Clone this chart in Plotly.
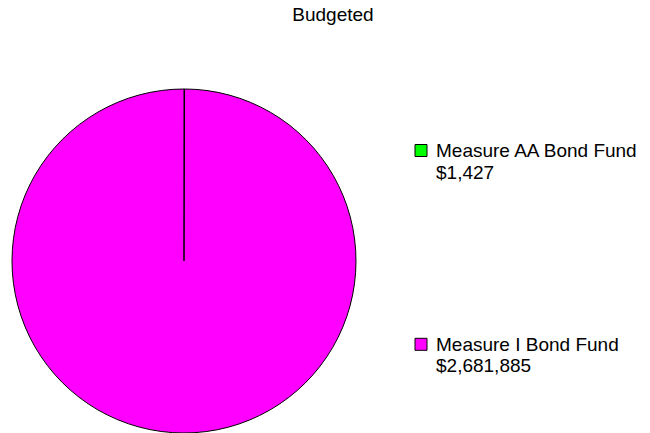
import plotly.graph_objects as go

# Data
labels = ["Measure AA Bond Fund", "Measure I Bond Fund"]
values = [1427, 2681885]
colors = ["#00FF00", "#FF00FF"]
title_text = "Budgeted"

W, H = 650, 433
FONT = "Liberation Sans, Arial, sans-serif"


def px_x(px):
    return px / W


def px_y(py):
    return 1 - py / H


fig = go.Figure(
    go.Pie(
        labels=labels,
        values=values,
        marker=dict(colors=colors, line=dict(color="black", width=1)),
        sort=False,
        direction="clockwise",
        rotation=0,
        textinfo="none",
        hoverinfo="label+value",
        showlegend=False,
        domain=dict(x=[px_x(12), px_x(356)], y=[px_y(433), px_y(89)]),
    )
)

shapes = []
annotations = []
first_center = 150.5
step = 193.8
line_gap = 21.6
for i, (lab, val, col) in enumerate(zip(labels, values, colors)):
    yc = first_center + i * step
    shapes.append(dict(
        type="rect", xref="paper", yref="paper",
        x0=px_x(415), x1=px_x(427), y0=px_y(yc - 6), y1=px_y(yc + 6),
        fillcolor=col, line=dict(color="black", width=1),
    ))
    for j, txt in enumerate([lab, f"${val:,}"]):
        annotations.append(dict(
            xref="paper", yref="paper", x=px_x(434), y=px_y(yc + j * line_gap),
            xanchor="left", yanchor="middle", align="left", showarrow=False,
            text=txt,
            font=dict(family=FONT, size=19, color="black"),
        ))

fig.update_layout(
    width=W, height=H,
    margin=dict(l=0, r=0, t=0, b=0),
    paper_bgcolor="white", plot_bgcolor="white",
    title=dict(text=title_text, x=px_x(333), xanchor="center", xref="paper",
               y=1 - 14.5 / H, yref="container", yanchor="middle",
               font=dict(family=FONT, size=19, color="black")),
    shapes=shapes,
    annotations=annotations,
    showlegend=False,
)

fig.write_html("out.html")
